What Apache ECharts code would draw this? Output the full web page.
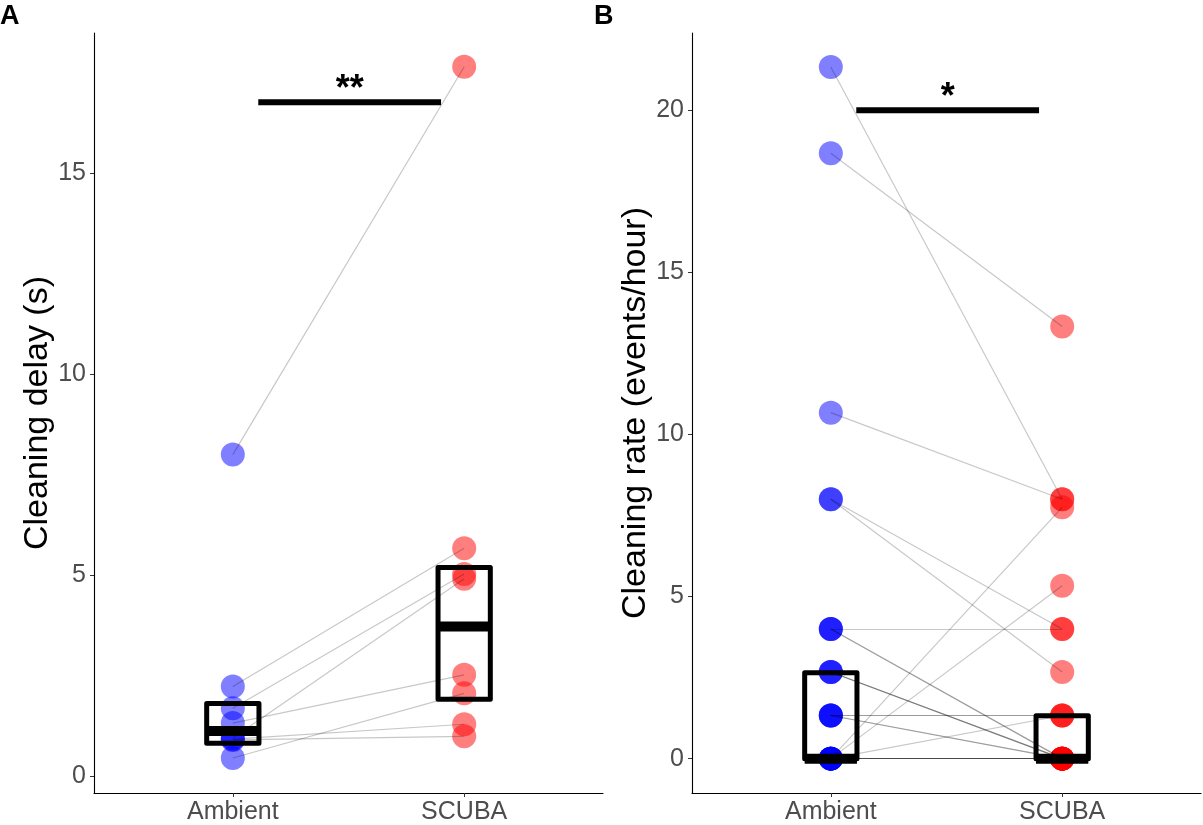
<!DOCTYPE html>
<html><head><meta charset="utf-8">
<script src="https://cdn.jsdelivr.net/npm/echarts@6/dist/echarts.min.js"></script>
<style>html,body{margin:0;padding:0;background:#fff}#c{width:1203px;height:825px}</style>
</head><body><div id="c"></div>
<script>
// ---- data ----
const categories = ['Ambient', 'SCUBA'];
const catPos = [1, 2];

// Panel A: cleaning delay (s), paired observations
const delayAmbient = [8.0, 2.23, 1.69, 1.32, 0.95, 0.92, 0.90, 0.45];
const delayScuba   = [17.65, 5.67, 5.03, 2.52, 4.91, 1.29, 0.99, 2.06];
const delayBoxLow  = [0.82, 1.91];
const delayBoxHigh = [1.81, 5.19];
const delayBoxMid  = [1.12, 3.72];
const delayTicks   = [0, 5, 10, 15];

// Panel B: cleaning rate (events/hour), paired observations
const rateAmbient = [21.33, 18.67, 10.67, 8, 8, 4, 4, 4, 2.67, 2.67, 2.67, 1.33, 1.33, 1.33, 1.33, 0, 0, 0, 0, 0, 0, 0, 0];
const rateScuba   = [8, 13.33, 8, 4, 2.67, 4, 0, 0, 0, 0, 0, 1.33, 1.33, 0, 0, 7.75, 5.33, 1.33, 0, 0, 0, 0, 0];
const rateBoxLow  = [0, 0];
const rateBoxHigh = [2.65, 1.32];
const rateBoxMid  = [0, 0];
const rateTicks   = [0, 5, 10, 15, 20];

// significance annotations [panelA, panelB]
const sigFrom  = [1.11, 1.11];
const sigTo    = [1.90, 1.90];
const sigY     = [16.77, 20.0];
const sigLabel = ['**', '*'];

const FONT = 'Liberation Sans, Arial, sans-serif';

function pairs(a, b) {
  return a.map((v, i) => ({ coords: [[catPos[0], v], [catPos[1], b[i]]] }));
}
function pts(arr, x) { return arr.map(v => [x, v]); }
function boxes(lo, hi, md) { return catPos.map((x, i) => [x, lo[i], hi[i], md[i]]); }

function boxRender(params, api) {
  const x = api.value(0), lo = api.value(1), hi = api.value(2), md = api.value(3);
  const hw = 0.113;
  const p1 = api.coord([x - hw, hi]), p2 = api.coord([x + hw, lo]);
  const m1 = api.coord([x - hw, md]), m2 = api.coord([x + hw, md]);
  return { type: 'group', children: [
    { type: 'rect', shape: { x: p1[0], y: p1[1], width: p2[0] - p1[0], height: p2[1] - p1[1] },
      style: { fill: 'none', stroke: '#000', lineWidth: 5, lineJoin: 'round' } },
    { type: 'line', shape: { x1: m1[0], y1: m1[1], x2: m2[0], y2: m2[1] },
      style: { stroke: '#000', lineWidth: 10 } }
  ]};
}
function makeSigRender(k) {
  return function (params, api) {
    const a = api.coord([api.value(0), api.value(2)]);
    const b = api.coord([api.value(1), api.value(2)]);
    return { type: 'group', children: [
      { type: 'line', shape: { x1: a[0], y1: a[1], x2: b[0], y2: b[1] }, style: { stroke: '#000', lineWidth: 6 } },
      { type: 'text', x: (a[0] + b[0]) / 2, y: a[1] + 6,
        style: { text: sigLabel[k], fill: '#000', font: 'bold 36px ' + FONT, align: 'center', verticalAlign: 'bottom' } }
    ]};
  };
}

function xAxis(gi) {
  return {
    type: 'value', gridIndex: gi, min: 0.4, max: 2.6,
    axisLine: { show: true, onZero: false, lineStyle: { color: '#000', width: 1.1 } },
    axisTick: { show: true, customValues: catPos, length: 4, lineStyle: { color: '#333' } },
    axisLabel: { show: true, customValues: catPos, formatter: v => categories[Math.round(v) - 1] || '',
      color: '#4d4d4d', fontSize: 25, fontFamily: FONT, margin: 7 },
    splitLine: { show: false }
  };
}
function yAxis(gi, min, max, ticks, name, gap) {
  return {
    type: 'value', gridIndex: gi, min: min, max: max,
    name: name, nameLocation: 'middle', nameGap: gap,
    nameTextStyle: { color: '#000', fontSize: 34, fontFamily: FONT },
    axisLine: { show: true, onZero: false, lineStyle: { color: '#000', width: 1.1 } },
    axisTick: { show: true, customValues: ticks, length: 4, lineStyle: { color: '#333' } },
    axisLabel: { show: true, customValues: ticks, color: '#4d4d4d', fontSize: 25, fontFamily: FONT, margin: 8 },
    splitLine: { show: false }
  };
}

const lineStyle = { color: 'rgba(0,0,0,0.22)', width: 1.2, opacity: 1 };
const blue = { color: 'rgba(0,0,255,0.5)', opacity: 1 };
const red = { color: 'rgba(255,0,0,0.5)', opacity: 1 };

const option = {
  backgroundColor: '#fff',
  animation: false,
  grid: [
    { left: 94, top: 33, width: 509, height: 764 },
    { left: 692, top: 33, width: 509, height: 764 }
  ],
  xAxis: [xAxis(0), xAxis(1)],
  yAxis: [
    yAxis(0, -0.42, 18.49, delayTicks, 'Cleaning delay (s)', 35),
    yAxis(1, -1.06, 22.38, rateTicks, 'Cleaning rate (events/hour)', 36)
  ],
  graphic: [
    { type: 'text', left: 0, top: 3, style: { text: 'A', font: 'bold 27px ' + FONT, fill: '#000' } },
    { type: 'text', left: 594, top: 3, style: { text: 'B', font: 'bold 27px ' + FONT, fill: '#000' } }
  ],
  series: [
    // Panel A
    { type: 'scatter', xAxisIndex: 0, yAxisIndex: 0, symbolSize: 24, data: pts(delayAmbient, 1),
      itemStyle: blue, z: 2 },
    { type: 'scatter', xAxisIndex: 0, yAxisIndex: 0, symbolSize: 24, data: pts(delayScuba, 2),
      itemStyle: red, z: 2 },
    { type: 'lines', coordinateSystem: 'cartesian2d', xAxisIndex: 0, yAxisIndex: 0,
      data: pairs(delayAmbient, delayScuba), lineStyle: lineStyle, z: 3 },
    { type: 'custom', xAxisIndex: 0, yAxisIndex: 0, renderItem: boxRender,
      data: boxes(delayBoxLow, delayBoxHigh, delayBoxMid), z: 4, silent: true },
    // Panel B
    { type: 'scatter', xAxisIndex: 1, yAxisIndex: 1, symbolSize: 24, data: pts(rateAmbient, 1),
      itemStyle: blue, z: 2 },
    { type: 'scatter', xAxisIndex: 1, yAxisIndex: 1, symbolSize: 24, data: pts(rateScuba, 2),
      itemStyle: red, z: 2 },
    { type: 'lines', coordinateSystem: 'cartesian2d', xAxisIndex: 1, yAxisIndex: 1,
      data: pairs(rateAmbient, rateScuba), lineStyle: lineStyle, z: 3 },
    { type: 'custom', xAxisIndex: 1, yAxisIndex: 1, renderItem: boxRender,
      data: boxes(rateBoxLow, rateBoxHigh, rateBoxMid), z: 4, silent: true },
    // significance bars
    { type: 'custom', xAxisIndex: 0, yAxisIndex: 0, renderItem: makeSigRender(0),
      data: [[sigFrom[0], sigTo[0], sigY[0]]], z: 5, silent: true },
    { type: 'custom', xAxisIndex: 1, yAxisIndex: 1, renderItem: makeSigRender(1),
      data: [[sigFrom[1], sigTo[1], sigY[1]]], z: 5, silent: true }
  ]
};
echarts.init(document.getElementById('c')).setOption(option);
</script>
</body></html>
